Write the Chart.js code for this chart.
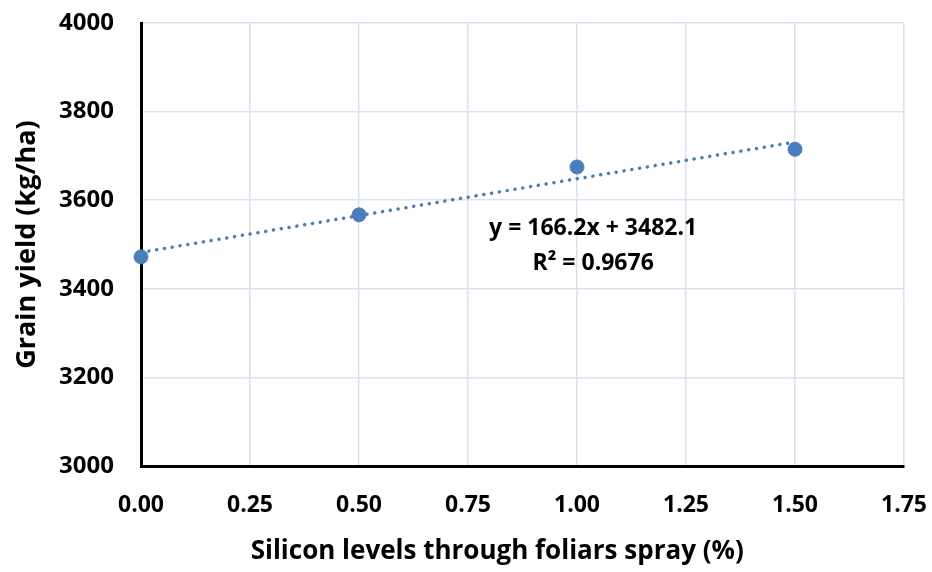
<!DOCTYPE html>
<html>
<head>
<meta charset="utf-8">
<script src="https://cdn.jsdelivr.net/npm/chart.js@4"></script>
<style>
  html, body { margin: 0; padding: 0; background: #ffffff; }
  #wrap { width: 932px; height: 572px; }
</style>
</head>
<body>
<div id="wrap"><canvas id="c" width="932" height="572"></canvas></div>
<script>
// ---- data ----
const siliconLevels = [0, 0.5, 1.0, 1.5];
const grainYield = [3472, 3567, 3675, 3715];
const trendX = [0, 1.5];
const trendY = [3482.1, 3731.4];
const xTicks = [0, 0.25, 0.5, 0.75, 1.0, 1.25, 1.5, 1.75];
const yTicks = [3000, 3200, 3400, 3600, 3800, 4000];
const equationText = ["y = 166.2x + 3482.1", "R\u00B2 = 0.9676"];
const xTitle = "Silicon levels through foliars spray (%)";
const yTitle = "Grain yield (kg/ha)";

const FONT = "'Open Sans', 'Noto Sans', sans-serif";
const blue = "#4a7ebb";

const textPlugin = {
  id: 'extraText',
  afterDatasetsDraw(chart, args, opts) {
    const ctx = chart.ctx;
    const xs = chart.scales.x, ys = chart.scales.y;
    ctx.save();
    ctx.fillStyle = "#000";
    ctx.textAlign = "center";
    ctx.textBaseline = "middle";
    // trendline equation
    ctx.font = "bold 23px " + FONT;
    const cx = xs.getPixelForValue(opts.eqX);
    const y0 = ys.getPixelForValue(opts.eqY);
    equationText.forEach((t, i) => ctx.fillText(t, cx, y0 + i * opts.lineGap));
    // x axis title
    ctx.font = "bold 26px " + FONT;
    ctx.fillText(xTitle, xs.getPixelForValue(opts.titleX), xs.bottom - opts.titleOffset);
    ctx.restore();
  }
};

new Chart(document.getElementById('c'), {
  type: 'scatter',
  data: {
    datasets: [
      {
        type: 'line',
        data: trendX.map((x, i) => ({x: x, y: trendY[i]})),
        borderColor: blue,
        borderWidth: 3.5,
        borderDash: [0.1, 7.8],
        borderCapStyle: 'round',
        pointRadius: 0,
        fill: false,
        tension: 0,
        clip: false,
        order: 2
      },
      {
        data: siliconLevels.map((x, i) => ({x: x, y: grainYield[i]})),
        backgroundColor: blue,
        borderColor: blue,
        pointRadius: 7,
        pointHoverRadius: 7,
        clip: false,
        order: 1
      }
    ]
  },
  options: {
    responsive: false,
    animation: false,
    events: [],
    layout: { padding: { left: 0, top: 23, right: 28, bottom: 0 } },
    plugins: {
      legend: { display: false },
      tooltip: { enabled: false },
      extraText: { eqX: 1.037, eqY: 3537, lineGap: 35, titleX: 0.817, titleOffset: 20 }
    },
    scales: {
      x: {
        type: 'linear',
        min: 0, max: 1.75,
        afterBuildTicks: (s) => { s.ticks = xTicks.map(v => ({value: v})); },
        afterFit: (s) => { s.height = 106; s.paddingLeft = 0; s.paddingRight = 0; },
        grid: { color: '#d9e2f1', lineWidth: 1.5, drawTicks: false },
        border: { display: true, color: '#000', width: 3 },
        ticks: {
          padding: 26,
          color: '#000',
          font: { family: FONT, size: 23, weight: 'bold' },
          callback: (v) => Number(v).toFixed(2)
        },
        title: { display: false }
      },
      y: {
        type: 'linear',
        min: 3000, max: 4000,
        afterBuildTicks: (s) => { s.ticks = yTicks.map(v => ({value: v})); },
        afterFit: (s) => { s.width = 141; s.paddingTop = 0; s.paddingBottom = 0; },
        grid: { color: '#d9e2f1', lineWidth: 1.5, drawTicks: false },
        border: { display: true, color: '#000', width: 3 },
        ticks: {
          padding: 27,
          color: '#000',
          font: { family: FONT, size: 24, weight: 'bold' },
          callback: (v) => String(v)
        },
        title: {
          display: true,
          text: yTitle,
          color: '#000',
          font: { family: FONT, size: 27, weight: 'bold' },
          padding: { top: 11, bottom: 0 }
        }
      }
    }
  },
  plugins: [textPlugin]
});
</script>
</body>
</html>
